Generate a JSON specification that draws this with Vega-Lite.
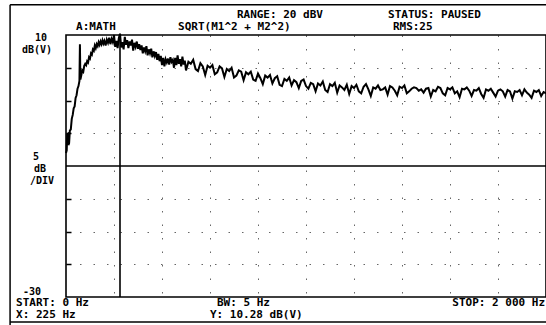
{
  "$schema": "https://vega.github.io/schema/vega-lite/v6.json",
  "width": 480,
  "height": 262,
  "autosize": {"type": "none"},
  "padding": {"left": 66, "top": 35, "right": 0, "bottom": 28},
  "background": "white",
  "config": {
    "view": {"stroke": "black", "strokeWidth": 1.6},
    "text": {"font": "DejaVu Sans Mono", "fontSize": 11, "fontWeight": "bold", "color": "black", "baseline": "middle"}
  },
  "datasets": {
    "trace": [
      {"f":0,"db":-8.0},{"f":3,"db":-7.6},{"f":5,"db":-5.2},{"f":8,"db":-5.1},{"f":10,"db":-6.8},{"f":13,"db":-6.5},{"f":16,"db":-4.6},{"f":20,"db":-4.4},{"f":24,"db":-2.8},{"f":28,"db":-2.2},{"f":32,"db":-1.2},{"f":36,"db":-0.9},{"f":40,"db":0.4},{"f":44,"db":0.8},{"f":48,"db":1.8},{"f":52,"db":2.2},{"f":56,"db":3.0},{"f":58,"db":8.6},{"f":60,"db":3.2},{"f":64,"db":3.9},{"f":68,"db":4.6},{"f":72,"db":4.4},{"f":76,"db":5.3},{"f":80,"db":5.6},{"f":84,"db":5.4},{"f":88,"db":6.0},{"f":92,"db":5.8},{"f":96,"db":6.6},{"f":100,"db":6.4},{"f":104,"db":7.2},{"f":108,"db":7.0},{"f":112,"db":7.8},{"f":116,"db":7.6},{"f":120,"db":8.4},{"f":124,"db":8.0},{"f":128,"db":8.6},{"f":132,"db":8.3},{"f":136,"db":8.9},{"f":140,"db":8.5},{"f":144,"db":9.0},{"f":148,"db":8.6},{"f":152,"db":9.2},{"f":156,"db":8.7},{"f":160,"db":9.1},{"f":165,"db":8.4},{"f":170,"db":9.3},{"f":175,"db":8.8},{"f":180,"db":9.6},{"f":185,"db":8.6},{"f":190,"db":9.4},{"f":195,"db":8.9},{"f":200,"db":10.0},{"f":205,"db":8.2},{"f":210,"db":9.1},{"f":215,"db":8.0},{"f":220,"db":9.5},{"f":225,"db":10.2},{"f":230,"db":8.1},{"f":235,"db":8.9},{"f":240,"db":7.8},{"f":245,"db":9.7},{"f":250,"db":8.5},{"f":255,"db":9.2},{"f":260,"db":8.0},{"f":265,"db":9.0},{"f":270,"db":8.4},{"f":275,"db":9.3},{"f":280,"db":7.6},{"f":285,"db":8.8},{"f":290,"db":8.2},{"f":295,"db":9.0},{"f":300,"db":7.9},{"f":305,"db":8.6},{"f":310,"db":7.7},{"f":315,"db":8.4},{"f":320,"db":7.2},{"f":325,"db":8.1},{"f":330,"db":7.5},{"f":335,"db":8.3},{"f":340,"db":6.9},{"f":345,"db":7.8},{"f":350,"db":7.2},{"f":355,"db":7.9},{"f":360,"db":6.6},{"f":365,"db":7.5},{"f":370,"db":6.8},{"f":375,"db":7.4},{"f":380,"db":6.2},{"f":385,"db":7.1},{"f":390,"db":6.0},{"f":395,"db":6.8},{"f":400,"db":5.4},{"f":405,"db":6.5},{"f":410,"db":5.2},{"f":415,"db":6.3},{"f":420,"db":5.8},{"f":425,"db":6.4},{"f":430,"db":5.5},{"f":435,"db":6.6},{"f":440,"db":5.9},{"f":445,"db":6.2},{"f":450,"db":5.0},{"f":455,"db":6.5},{"f":460,"db":5.4},{"f":465,"db":6.9},{"f":470,"db":5.6},{"f":475,"db":6.3},{"f":480,"db":5.2},{"f":485,"db":6.7},{"f":490,"db":5.5},{"f":495,"db":6.1},
      {"f":500,"db":4.6},{"f":510,"db":5.9},{"f":520,"db":5.6},{"f":530,"db":6.2},{"f":540,"db":4.8},{"f":550,"db":4.5},{"f":560,"db":5.7},{"f":570,"db":5.2},{"f":580,"db":3.9},{"f":590,"db":5.3},{"f":600,"db":5.0},{"f":610,"db":5.4},{"f":620,"db":4.0},{"f":630,"db":4.3},{"f":640,"db":5.2},{"f":650,"db":4.9},{"f":660,"db":3.6},{"f":670,"db":4.8},{"f":680,"db":4.5},{"f":690,"db":5.0},{"f":700,"db":3.5},{"f":710,"db":3.8},{"f":720,"db":4.6},{"f":730,"db":4.4},{"f":740,"db":3.1},{"f":750,"db":4.3},{"f":760,"db":4.0},{"f":770,"db":4.4},{"f":780,"db":3.2},{"f":790,"db":3.0},{"f":800,"db":4.1},{"f":810,"db":3.4},{"f":820,"db":2.5},{"f":830,"db":3.8},{"f":840,"db":3.5},{"f":850,"db":3.9},{"f":860,"db":2.6},{"f":870,"db":3.4},{"f":880,"db":3.7},{"f":890,"db":2.4},{"f":900,"db":2.2},{"f":910,"db":3.3},{"f":920,"db":3.0},{"f":930,"db":3.5},{"f":940,"db":2.3},{"f":950,"db":3.1},{"f":960,"db":2.8},{"f":970,"db":1.9},{"f":980,"db":3.0},{"f":990,"db":3.2},
      {"f":1000,"db":2.2},{"f":1010,"db":1.8},{"f":1020,"db":2.7},{"f":1030,"db":2.5},{"f":1040,"db":1.4},{"f":1050,"db":2.6},{"f":1060,"db":2.3},{"f":1070,"db":2.9},{"f":1080,"db":1.6},{"f":1090,"db":1.3},{"f":1100,"db":2.5},{"f":1110,"db":2.2},{"f":1120,"db":2.7},{"f":1130,"db":1.2},{"f":1140,"db":2.3},{"f":1150,"db":2.0},{"f":1160,"db":1.6},{"f":1170,"db":2.4},{"f":1180,"db":1.0},{"f":1190,"db":2.2},{"f":1200,"db":1.9},{"f":1210,"db":2.4},{"f":1220,"db":1.4},{"f":1230,"db":1.1},{"f":1240,"db":2.1},{"f":1250,"db":2.5},{"f":1260,"db":1.7},{"f":1270,"db":0.7},{"f":1280,"db":2.0},{"f":1290,"db":1.8},{"f":1300,"db":2.3},{"f":1310,"db":1.6},{"f":1320,"db":1.7},{"f":1330,"db":2.0},{"f":1340,"db":0.9},{"f":1350,"db":2.2},{"f":1360,"db":2.0},{"f":1370,"db":1.5},{"f":1380,"db":0.8},{"f":1390,"db":2.1},{"f":1400,"db":1.9},{"f":1410,"db":2.3},{"f":1420,"db":1.1},{"f":1430,"db":1.4},{"f":1440,"db":1.8},{"f":1450,"db":2.0},{"f":1460,"db":1.9},{"f":1470,"db":1.5},{"f":1480,"db":1.7},{"f":1490,"db":1.2},
      {"f":1500,"db":1.8},{"f":1510,"db":1.9},{"f":1520,"db":0.6},{"f":1530,"db":1.6},{"f":1540,"db":1.4},{"f":1550,"db":2.1},{"f":1560,"db":1.9},{"f":1570,"db":1.1},{"f":1580,"db":0.8},{"f":1590,"db":1.9},{"f":1600,"db":1.7},{"f":1610,"db":2.0},{"f":1620,"db":1.1},{"f":1630,"db":1.4},{"f":1640,"db":0.5},{"f":1650,"db":1.8},{"f":1660,"db":1.7},{"f":1670,"db":2.0},{"f":1680,"db":1.5},{"f":1690,"db":0.7},{"f":1700,"db":1.6},{"f":1710,"db":1.5},{"f":1720,"db":1.9},{"f":1730,"db":1.0},{"f":1740,"db":0.4},{"f":1750,"db":1.7},{"f":1760,"db":1.5},{"f":1770,"db":1.8},{"f":1780,"db":1.2},{"f":1790,"db":0.6},{"f":1800,"db":1.5},{"f":1810,"db":1.7},{"f":1820,"db":1.4},{"f":1830,"db":0.6},{"f":1840,"db":1.6},{"f":1850,"db":1.4},{"f":1860,"db":0.3},{"f":1870,"db":1.4},{"f":1880,"db":1.3},{"f":1890,"db":1.6},{"f":1900,"db":0.8},{"f":1910,"db":1.7},{"f":1920,"db":1.2},{"f":1930,"db":0.9},{"f":1940,"db":0.4},{"f":1950,"db":1.5},{"f":1960,"db":1.3},{"f":1970,"db":1.6},{"f":1980,"db":0.7},{"f":1990,"db":1.3},{"f":2000,"db":1.1}
    ],
    "marks": [{"midline": -10, "cursor": 225}],
    "frame": [
      {"f":-233,"db":14.6,"f2":-233,"db2":-34.3},
      {"f":-233,"db":14.6,"f2":2000,"db2":14.6},
      {"f":-233,"db":-33.8,"f2":2000,"db2":-33.8}
    ],
    "leftText": [
      {"f":712,"db":13.05,"t":"RANGE: 20 dBV"},
      {"f":1342,"db":13.05,"t":"STATUS: PAUSED"},
      {"f":42,"db":11.22,"t":"A:MATH"},
      {"f":467,"db":11.22,"t":"SQRT(M1^2 + M2^2)"},
      {"f":1362,"db":11.22,"t":"RMS:25"},
      {"f":-208,"db":-30.92,"t":"START: 0 Hz"},
      {"f":-208,"db":-32.75,"t":"X: 225 Hz"},
      {"f":629,"db":-30.92,"t":"BW: 5 Hz"},
      {"f":600,"db":-32.75,"t":"Y: 10.28 dB(V)"}
    ],
    "rightText": [
      {"f":1996,"db":-30.92,"t":"STOP: 2 000 Hz"}
    ],
    "centerText": [
      {"f":-104,"db":9.54,"t":"10"},
      {"f":-121,"db":7.71,"t":"dB(V)"},
      {"f":-125,"db":-8.63,"t":"5"},
      {"f":-108,"db":-10.46,"t":"dB"},
      {"f":-100,"db":-12.29,"t":"/DIV"},
      {"f":-142,"db":-29.24,"t":"-30"}
    ]
  },
  "layer": [
    {
      "data": {"name": "trace"},
      "mark": {"type": "line", "color": "black", "strokeWidth": 2},
      "encoding": {
        "x": {"field": "f", "type": "quantitative", "scale": {"domain": [0, 2000], "nice": false, "zero": false},
          "axis": {"values": [200,400,600,800,1000,1200,1400,1600,1800], "labels": false, "ticks": false, "domain": false, "title": null,
            "grid": true, "gridColor": "black", "gridDash": [1.5, 12], "gridOpacity": 0.6, "gridWidth": 1}},
        "y": {"field": "db", "type": "quantitative", "scale": {"domain": [-30, 10], "nice": false, "zero": false},
          "axis": {"values": [5,0,-5,-15,-20,-25], "labels": false, "ticks": true, "tickSize": -5, "tickColor": "black", "tickWidth": 1.5, "domain": false, "title": null,
            "grid": true, "gridColor": "black", "gridDash": [1.5, 12], "gridOpacity": 0.6, "gridWidth": 1}}
      }
    },
    {
      "data": {"name": "marks"},
      "mark": {"type": "rule", "color": "black", "strokeWidth": 1.6},
      "encoding": {"y": {"field": "midline", "type": "quantitative", "scale": {"domain": [-30, 10]}}}
    },
    {
      "data": {"name": "marks"},
      "mark": {"type": "rule", "color": "black", "strokeWidth": 1.6},
      "encoding": {"x": {"field": "cursor", "type": "quantitative", "scale": {"domain": [0, 2000]}}}
    },
    {
      "data": {"name": "frame"},
      "mark": {"type": "rule", "color": "black", "strokeWidth": 1.5},
      "encoding": {
        "x": {"field": "f", "type": "quantitative", "scale": {"domain": [0, 2000]}},
        "x2": {"field": "f2"},
        "y": {"field": "db", "type": "quantitative", "scale": {"domain": [-30, 10]}},
        "y2": {"field": "db2"}
      }
    },
    {
      "data": {"name": "leftText"},
      "mark": {"type": "text", "align": "left"},
      "encoding": {
        "x": {"field": "f", "type": "quantitative", "scale": {"domain": [0, 2000]}},
        "y": {"field": "db", "type": "quantitative", "scale": {"domain": [-30, 10]}},
        "text": {"field": "t"}
      }
    },
    {
      "data": {"name": "rightText"},
      "mark": {"type": "text", "align": "right"},
      "encoding": {
        "x": {"field": "f", "type": "quantitative", "scale": {"domain": [0, 2000]}},
        "y": {"field": "db", "type": "quantitative", "scale": {"domain": [-30, 10]}},
        "text": {"field": "t"}
      }
    },
    {
      "data": {"name": "centerText"},
      "mark": {"type": "text", "align": "center", "fontSize": 10},
      "encoding": {
        "x": {"field": "f", "type": "quantitative", "scale": {"domain": [0, 2000]}},
        "y": {"field": "db", "type": "quantitative", "scale": {"domain": [-30, 10]}},
        "text": {"field": "t"}
      }
    }
  ]
}
